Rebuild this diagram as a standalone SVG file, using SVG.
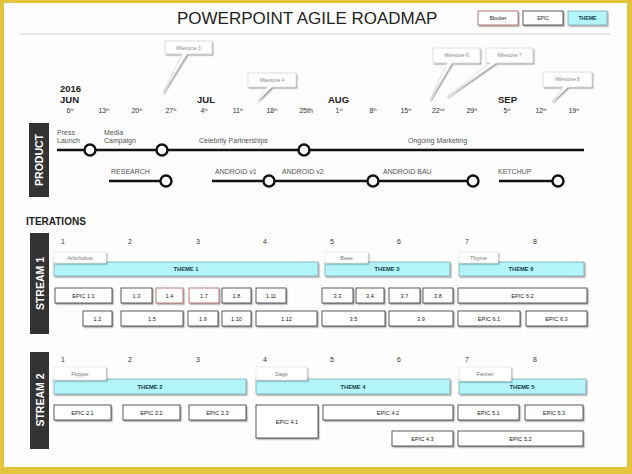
<svg xmlns="http://www.w3.org/2000/svg" width="632" height="474" viewBox="0 0 632 474">
<defs>
<filter id="sh" x="-20%" y="-30%" width="140%" height="170%"><feDropShadow dx="1.2" dy="1.4" stdDeviation="0.7" flood-color="#000" flood-opacity="0.35"/></filter>
<style>
text{font-family:"Liberation Sans",Arial,sans-serif}
.title{font-size:17px;fill:#222}
.mon{font-size:9.5px;font-weight:bold;fill:#222}
.day{font-size:7px;fill:#333;text-anchor:middle}
.sup{font-size:4px}
.ms{fill:#fff;stroke:#c8c8c8;stroke-width:0.6;filter:url(#sh)}
.mst{font-size:4.8px;fill:#888;text-anchor:middle}
.lbl{fill:#333;}
.lbltxt{font-size:10.5px;font-weight:bold;fill:#fff;text-anchor:middle}
.pl{font-size:7px;fill:#555}
.line{stroke:#111;stroke-width:2.6;fill:none}
.dot{fill:#fff;stroke:#111;stroke-width:2.4}
.it{font-size:7px;fill:#333;text-anchor:middle}
.theme{fill:#b2f4f8;stroke:#7aa9ae;stroke-width:0.8;filter:url(#sh)}
.themet{font-size:5.8px;font-weight:bold;fill:#123c48;text-anchor:middle}
.tab{fill:#fff;stroke:#d8d8d8;stroke-width:0.5;filter:url(#sh)}
.tabt{font-size:5.5px;fill:#777;text-anchor:middle}
.epic{fill:#fff;stroke:#333;stroke-width:0.8;filter:url(#sh)}
.blk{fill:#fff;stroke:#a85a5a;stroke-width:0.8;filter:url(#sh)}
.et{font-size:5.6px;fill:#222;text-anchor:middle}
</style>
</defs>
<rect x="0" y="0" width="632" height="474" fill="#e2c53c"/>
<rect x="4" y="3" width="623" height="464" fill="#fdfdfd"/>

<g id="header">
<text class="title" x="177" y="24">POWERPOINT AGILE ROADMAP</text>
<line x1="20" y1="34" x2="610" y2="34" stroke="#cfcfcf" stroke-width="1"/>
</g>

<g id="legend">
<rect class="blk" x="478" y="11" width="40" height="14"/>
<text class="et" x="498" y="20" style="font-size:5px">Blocker</text>
<rect class="epic" x="523" y="11" width="40" height="14"/>
<text class="et" x="543" y="20" style="font-size:5px">EPIC</text>
<rect class="theme" x="568" y="11" width="39" height="14"/>
<text class="themet" x="587.5" y="20" style="font-size:5.2px">THEME</text>
</g>

<g id="milestones">
<g id="ms3"><path class="ms" d="M165 41H212V54H187L163 93L182 54H165Z"/><text class="mst" x="188.5" y="49.5">Milestone 3</text></g>
<g id="ms4"><path class="ms" d="M248 73H296V87H272L258 101L267 87H248Z"/><text class="mst" x="272" y="81.8">Milestone 4</text></g>
<g id="ms6"><path class="ms" d="M433 48H480V63H452L430 100L447 63H433Z"/><text class="mst" x="456.5" y="57.3">Milestone 6</text></g>
<g id="ms7"><path class="ms" d="M486 48H533V63H496L447 97L490 63H486Z"/><text class="mst" x="509.5" y="57.3">Milestone 7</text></g>
<g id="ms8"><path class="ms" d="M543 72H592V87H568L552 102L563 87H543Z"/><text class="mst" x="567.5" y="81.3">Milestone 8</text></g>
</g>

<g id="dates">
<text class="mon" x="60" y="92">2016</text>
<text class="mon" x="60" y="103">JUN</text>
<text class="mon" x="197" y="103">JUL</text>
<text class="mon" x="328" y="103">AUG</text>
<text class="mon" x="498" y="103">SEP</text>
<text class="day" x="70" y="113">6<tspan class="sup" dy="-2.5">th</tspan></text>
<text class="day" x="104" y="113">13<tspan class="sup" dy="-2.5">th</tspan></text>
<text class="day" x="137" y="113">20<tspan class="sup" dy="-2.5">th</tspan></text>
<text class="day" x="171" y="113">27<tspan class="sup" dy="-2.5">th</tspan></text>
<text class="day" x="204" y="113">4<tspan class="sup" dy="-2.5">th</tspan></text>
<text class="day" x="238" y="113">11<tspan class="sup" dy="-2.5">th</tspan></text>
<text class="day" x="272" y="113">18<tspan class="sup" dy="-2.5">th</tspan></text>
<text class="day" x="306" y="113">25th</text>
<text class="day" x="339" y="113">1<tspan class="sup" dy="-2.5">st</tspan></text>
<text class="day" x="373" y="113">8<tspan class="sup" dy="-2.5">th</tspan></text>
<text class="day" x="406" y="113">15<tspan class="sup" dy="-2.5">th</tspan></text>
<text class="day" x="438" y="113">22<tspan class="sup" dy="-2.5">nd</tspan></text>
<text class="day" x="472" y="113">29<tspan class="sup" dy="-2.5">th</tspan></text>
<text class="day" x="507" y="113">5<tspan class="sup" dy="-2.5">th</tspan></text>
<text class="day" x="541" y="113">12<tspan class="sup" dy="-2.5">th</tspan></text>
<text class="day" x="574" y="113">19<tspan class="sup" dy="-2.5">th</tspan></text>
</g>

<g id="product-label">
<rect class="lbl" x="29" y="123" width="20" height="74"/>
<text class="lbltxt" transform="translate(43.2 160) rotate(-90)">PRODUCT</text>
</g>

<g id="connectors">
<line class="line" x1="57" y1="150" x2="584" y2="150"/>
<line class="line" x1="109" y1="181" x2="166" y2="181"/>
<line class="line" x1="212" y1="181" x2="473" y2="181"/>
<line class="line" x1="499" y1="181" x2="558" y2="181"/>
</g>

<g id="product-nodes">
<g id="press-launch"><text class="pl" x="57" y="135">Press</text><text class="pl" x="57" y="143">Launch</text><circle class="dot" cx="90" cy="150" r="5.5"/></g>
<g id="media-campaign"><text class="pl" x="104" y="135">Media</text><text class="pl" x="104" y="143">Campaign</text><circle class="dot" cx="162" cy="150" r="5.5"/></g>
<g id="celebrity"><text class="pl" x="199" y="143">Celebrity Partnerships</text><circle class="dot" cx="304" cy="150" r="5.5"/></g>
<g id="ongoing"><text class="pl" x="408" y="143">Ongoing Marketing</text></g>
<g id="research"><text class="pl" x="111" y="174">RESEARCH</text><circle class="dot" cx="166" cy="181" r="5.5"/></g>
<g id="android-v1"><text class="pl" x="215" y="174">ANDROID v1</text><circle class="dot" cx="269" cy="181" r="5.5"/></g>
<g id="android-v2"><text class="pl" x="282" y="174">ANDROID v2</text><circle class="dot" cx="373" cy="181" r="5.5"/></g>
<g id="android-bau"><text class="pl" x="383" y="174">ANDROID BAU</text><circle class="dot" cx="473" cy="181" r="5.5"/></g>
<g id="ketchup"><text class="pl" x="498" y="174">KETCHUP</text><circle class="dot" cx="558" cy="181" r="5.5"/></g>
</g>

<text x="26" y="225" style="font-size:10px;font-weight:bold;fill:#222">ITERATIONS</text>

<g id="stream1">
<rect class="lbl" x="30" y="233" width="19" height="101"/>
<text class="lbltxt" transform="translate(43.5 283.5) rotate(-90)">STREAM 1</text>
<text class="it" x="63" y="244">1</text><text class="it" x="130" y="244">2</text><text class="it" x="198" y="244">3</text><text class="it" x="265" y="244">4</text>
<text class="it" x="332" y="244">5</text><text class="it" x="399" y="244">6</text><text class="it" x="467" y="244">7</text><text class="it" x="535" y="244">8</text>
<g id="theme1"><rect class="theme" x="54" y="262" width="264" height="14"/><text class="themet" x="186" y="271">THEME 1</text><rect class="tab" x="54" y="252" width="52" height="11"/><text class="tabt" x="80" y="259.5">Artichokes</text></g>
<g id="theme3"><rect class="theme" x="325" y="262" width="125" height="14"/><text class="themet" x="387" y="271">THEME 3</text><rect class="tab" x="325" y="252" width="43" height="11"/><text class="tabt" x="346.5" y="259.5">Bees</text></g>
<g id="theme6"><rect class="theme" x="459" y="262" width="125" height="14"/><text class="themet" x="521" y="271">THEME 6</text><rect class="tab" x="459" y="252" width="39" height="11"/><text class="tabt" x="478.5" y="259.5">Thyme</text></g>
<g id="e1-1"><rect class="epic" x="55" y="288" width="57" height="15"/><text class="et" x="83.5" y="297.5">EPIC 1.1</text></g>
<g id="e1-3"><rect class="epic" x="121" y="288" width="31" height="15"/><text class="et" x="136.5" y="297.5">1.3</text></g>
<g id="e1-4"><rect class="blk" x="156" y="288" width="27" height="15"/><text class="et" x="169.5" y="297.5">1.4</text></g>
<g id="e1-7"><rect class="blk" x="189" y="288" width="30" height="15"/><text class="et" x="204" y="297.5">1.7</text></g>
<g id="e1-8"><rect class="epic" x="222" y="288" width="29" height="15"/><text class="et" x="236.5" y="297.5">1.8</text></g>
<g id="e1-11"><rect class="epic" x="256" y="288" width="30" height="15"/><text class="et" x="271" y="297.5">1.11</text></g>
<g id="e3-3"><rect class="epic" x="322" y="288" width="31" height="15"/><text class="et" x="337.5" y="297.5">3.3</text></g>
<g id="e3-4"><rect class="epic" x="356" y="288" width="28" height="15"/><text class="et" x="370" y="297.5">3.4</text></g>
<g id="e3-7"><rect class="epic" x="389" y="288" width="31" height="15"/><text class="et" x="404.5" y="297.5">3.7</text></g>
<g id="e3-8"><rect class="epic" x="423" y="288" width="30" height="15"/><text class="et" x="438" y="297.5">3.8</text></g>
<g id="e6-2"><rect class="epic" x="458" y="288" width="129" height="15"/><text class="et" x="522.5" y="297.5">EPIC 6.2</text></g>
<g id="e1-2"><rect class="epic" x="83" y="311" width="29" height="15"/><text class="et" x="97.5" y="320.5">1.2</text></g>
<g id="e1-5"><rect class="epic" x="121" y="311" width="62" height="15"/><text class="et" x="152" y="320.5">1.5</text></g>
<g id="e1-9"><rect class="epic" x="188" y="311" width="30" height="15"/><text class="et" x="203" y="320.5">1.9</text></g>
<g id="e1-10"><rect class="epic" x="222" y="311" width="29" height="15"/><text class="et" x="236.5" y="320.5">1.10</text></g>
<g id="e1-12"><rect class="epic" x="256" y="311" width="61" height="15"/><text class="et" x="286.5" y="320.5">1.12</text></g>
<g id="e3-5"><rect class="epic" x="322" y="311" width="63" height="15"/><text class="et" x="353.5" y="320.5">3.5</text></g>
<g id="e3-9"><rect class="epic" x="389" y="311" width="64" height="15"/><text class="et" x="421" y="320.5">3.9</text></g>
<g id="e6-1"><rect class="epic" x="458" y="311" width="62" height="15"/><text class="et" x="489" y="320.5">EPIC 6.1</text></g>
<g id="e6-3"><rect class="epic" x="526" y="311" width="61" height="15"/><text class="et" x="556.5" y="320.5">EPIC 6.3</text></g>
</g>

<g id="stream2">
<rect class="lbl" x="30" y="352" width="19" height="97"/>
<text class="lbltxt" transform="translate(43.5 400) rotate(-90)">STREAM 2</text>
<text class="it" x="63" y="362">1</text><text class="it" x="130" y="362">2</text><text class="it" x="198" y="362">3</text><text class="it" x="265" y="362">4</text>
<text class="it" x="332" y="362">5</text><text class="it" x="399" y="362">6</text><text class="it" x="467" y="362">7</text><text class="it" x="535" y="362">8</text>
<g id="theme2"><rect class="theme" x="54" y="379" width="192" height="15"/><text class="themet" x="150" y="388.5">THEME 2</text><rect class="tab" x="54" y="367" width="52" height="13"/><text class="tabt" x="80" y="375.5">Pepper</text></g>
<g id="theme4"><rect class="theme" x="256" y="379" width="194" height="15"/><text class="themet" x="353" y="388.5">THEME 4</text><rect class="tab" x="256" y="367" width="51" height="13"/><text class="tabt" x="281.5" y="375.5">Sage</text></g>
<g id="theme5"><rect class="theme" x="459" y="379" width="127" height="15"/><text class="themet" x="522" y="388.5">THEME 5</text><rect class="tab" x="459" y="367" width="52" height="14"/><text class="tabt" x="485" y="376">Fennel</text></g>
<g id="e2-1"><rect class="epic" x="54" y="405" width="57" height="15"/><text class="et" x="82.5" y="414.5">EPIC 2.1</text></g>
<g id="e2-2"><rect class="epic" x="123" y="405" width="57" height="15"/><text class="et" x="151.5" y="414.5">EPIC 2.2</text></g>
<g id="e2-3"><rect class="epic" x="189" y="405" width="57" height="15"/><text class="et" x="217.5" y="414.5">EPIC 2.3</text></g>
<g id="e4-1"><rect class="epic" x="256" y="405" width="62" height="33"/><text class="et" x="287" y="423.5">EPIC 4.1</text></g>
<g id="e4-2"><rect class="epic" x="323" y="405" width="130" height="15"/><text class="et" x="388" y="414.5">EPIC 4.2</text></g>
<g id="e5-1"><rect class="epic" x="458" y="405" width="61" height="15"/><text class="et" x="488.5" y="414.5">EPIC 5.1</text></g>
<g id="e5-3"><rect class="epic" x="525" y="405" width="58" height="15"/><text class="et" x="554" y="414.5">EPIC 5.3</text></g>
<g id="e4-3"><rect class="epic" x="392" y="431" width="61" height="15"/><text class="et" x="422.5" y="440.5">EPIC 4.3</text></g>
<g id="e5-2"><rect class="epic" x="458" y="431" width="125" height="15"/><text class="et" x="520.5" y="440.5">EPIC 5.2</text></g>
</g>
</svg>
